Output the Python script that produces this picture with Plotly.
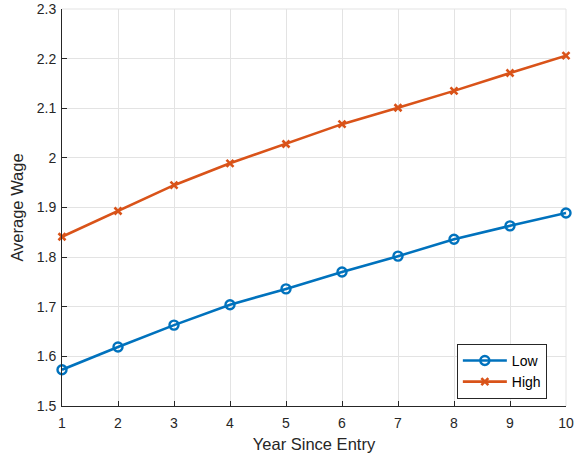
import plotly.graph_objects as go

years = [1, 2, 3, 4, 5, 6, 7, 8, 9, 10]
wage_low = [1.573, 1.619, 1.663, 1.704, 1.736, 1.770, 1.802, 1.836, 1.863, 1.889]
wage_high = [1.841, 1.893, 1.945, 1.989, 2.028, 2.068, 2.101, 2.135, 2.171, 2.206]

fig = go.Figure()
fig.add_trace(go.Scatter(
    x=years, y=wage_low, name="Low", mode="lines+markers",
    line=dict(color="#0072BD", width=2.6),
    marker=dict(symbol="circle-open", size=9, color="#0072BD", line=dict(width=2.4)),
    cliponaxis=False,
))
fig.add_trace(go.Scatter(
    x=years, y=wage_high, name="High", mode="lines+markers",
    line=dict(color="#D95319", width=2.6),
    marker=dict(symbol="x-thin-open", size=7, color="#D95319", line=dict(width=2.6, color="#D95319")),
    cliponaxis=False,
))

axis_common = dict(
    showgrid=True, gridcolor="#E3E3E3", gridwidth=1,
    showline=True, linecolor="#262626", linewidth=1,
    ticks="inside", ticklen=5, tickcolor="#262626",
    tickfont=dict(family="Liberation Sans, Arial, sans-serif", size=14, color="#262626"),
    zeroline=False, mirror=False, automargin=False,
)

fig.update_layout(
    width=574, height=461,
    margin=dict(l=62, r=8, t=9, b=55),
    paper_bgcolor="white", plot_bgcolor="white",
    font=dict(family="Liberation Sans, Arial, sans-serif", color="#262626"),
    xaxis=dict(range=[1, 10], dtick=1, tick0=1, ticklabelstandoff=4,
               title=dict(text="Year Since Entry", font=dict(size=16.5), standoff=8),
               **axis_common),
    yaxis=dict(range=[1.5, 2.3], dtick=0.1, tick0=1.5, ticklabelstandoff=2,
               title=dict(text="Average Wage", font=dict(size=16.5), standoff=8),
               **axis_common),
    legend=dict(
        x=0.962, y=0.018, xanchor="right", yanchor="bottom",
        bgcolor="white", bordercolor="#262626", borderwidth=1,
        font=dict(size=14, color="#000000"),
        itemwidth=44, tracegroupgap=0,
    ),
    showlegend=True,
)

# light frame on the top and right sides, like the grid
fig.add_shape(type="line", xref="paper", yref="paper", x0=0, x1=1, y0=1, y1=1,
              line=dict(color="#E3E3E3", width=1), layer="below")
fig.add_shape(type="line", xref="paper", yref="paper", x0=1, x1=1, y0=0, y1=1,
              line=dict(color="#E3E3E3", width=1), layer="below")

fig.write_html("out.html")
